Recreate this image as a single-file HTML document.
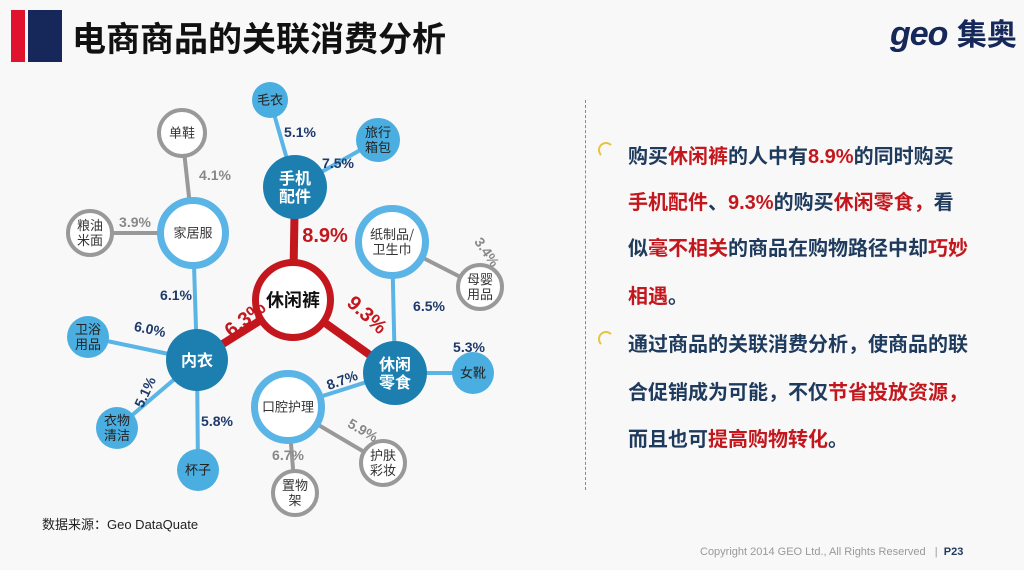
<!DOCTYPE html>
<html><head><meta charset="utf-8">
<style>
body{margin:0;width:1024px;height:570px;overflow:hidden;background:#f8f8f8;font-family:"Liberation Sans","Noto Sans CJK SC",sans-serif;position:relative}
.t{position:absolute;white-space:nowrap}
.line{position:absolute;left:628px;font-size:20px;font-weight:bold;color:#1e3a5c;white-space:nowrap}
.r{color:#c3171d}
.bullet{position:absolute;left:598px;width:12px;height:12px;border-radius:50%;border:2px solid #e8c43a;border-right-color:transparent;border-bottom-color:transparent}
</style></head><body>
<div style="position:absolute;left:11px;top:10px;width:14px;height:52px;background:#e0122d"></div>
<div style="position:absolute;left:28px;top:10px;width:34px;height:52px;background:#16275a"></div>
<div class="t" style="left:72px;top:15px;font-size:34px;font-weight:bold;color:#111;font-family:'Noto Sans CJK SC',sans-serif;line-height:44px">电商商品的关联消费分析</div>
<div class="t" style="left:890px;top:14px;font-size:34px;font-weight:bold;color:#16275a;line-height:40px"><span style="font-style:italic;letter-spacing:-1px">geo</span> <span style="font-size:30px">集奥</span></div>
<div style="position:absolute;left:585px;top:100px;height:390px;border-left:1.5px dashed #888"></div>

<div class="bullet" style="top:142px"></div>
<div class="line" style="top:140px">购买<span class="r">休闲裤</span>的人中有<span class="r">8.9%</span>的同时购买</div>
<div class="line" style="top:186px"><span class="r">手机配件</span>、<span class="r">9.3%</span>的购买<span class="r">休闲零食</span><span class="r">，</span>看</div>
<div class="line" style="top:232px">似<span class="r">毫不相关</span>的商品在购物路径中却<span class="r">巧妙</span></div>
<div class="line" style="top:280px"><span class="r">相遇</span>。</div>
<div class="bullet" style="top:331px"></div>
<div class="line" style="top:328px">通过商品的关联消费分析，使商品的联</div>
<div class="line" style="top:376px">合促销成为可能，不仅<span class="r">节省投放资源</span><span class="r">，</span></div>
<div class="line" style="top:423px">而且也可<span class="r">提高购物转化</span>。</div>

<div class="t" style="left:42px;top:514px;font-size:13px;color:#222">数据来源：Geo DataQuate</div>
<div class="t" style="left:700px;top:546px;font-size:11px;color:#999">Copyright 2014 GEO Ltd., All Rights Reserved &nbsp; | &nbsp;<span style="color:#1e3a5c;font-weight:bold">P23</span></div>

<svg id="net" width="560" height="530" style="position:absolute;left:0;top:0"></svg>
<script>
const nodeLabels=["休闲裤","手机\n配件","毛衣","旅行\n箱包","家居服","单鞋","粮油\n米面","纸制品/\n卫生巾","母婴\n用品","内衣","卫浴\n用品","衣物\n清洁","杯子","休闲\n零食","女靴","口腔护理","护肤\n彩妆","置物\n架"];
const edgeFrom=[0,0,0,1,1,4,4,4,9,9,9,13,13,13,7,15,15];
const edgeTo=[1,9,13,2,3,5,6,9,10,11,12,7,14,15,8,16,17];
const edgeValues=[8.9,6.3,9.3,5.1,7.5,4.1,3.9,6.1,6.0,5.1,5.8,6.5,5.3,8.7,3.4,5.9,6.7];
// layout (not data)
const nodeX=[293,295,270,378,193,182,90,392,480,197,88,117,198,395,473,288,383,295];
const nodeY=[300,187,100,140,233,133,233,242,287,360,337,428,470,373,373,407,463,493];
const nodeR=[41,32,18,22,36,25,24,37,24,31,21,21,21,32,21,37,24,24];
const nodeStyle=["center","dark","light","light","ring","gray","gray","ring","gray","dark","light","light","light","dark","light","ring","gray","gray"];
const labelPos=[[325,237,0],[246,320,-38],[366,316,42],[300,132,0],[338,163,0],[215,175,0],[135,222,0],[176,295,0],[150,329,12],[145,392,-65],[217,421,0],[429,306,0],[469,347,0],[342,380,-20],[487,252,55],[363,430,30],[288,455,0]];
const NS="http://www.w3.org/2000/svg";
const svg=document.getElementById('net');
function mk(t,a){const e=document.createElementNS(NS,t);for(const k in a)e.setAttribute(k,a[k]);return e;}
edgeFrom.forEach((f,i)=>{
  const t=edgeTo[i];
  const col=f===0?"#c3171d":(nodeStyle[t]==="gray"?"#999":"#5ab4e5");
  const w=f===0?8:4;
  const l=mk('line',{x1:nodeX[f],y1:nodeY[f],x2:nodeX[t],y2:nodeY[t],stroke:col,'stroke-width':w});
  
  
  svg.appendChild(l);
});
nodeLabels.forEach((lab,i)=>{
  const s=nodeStyle[i];let fill,stroke,sw,tc,fs=13,fw="normal";
  if(s==="center"){fill="#fff";stroke="#c3171d";sw=7;tc="#111";fs=18;fw="bold";}
  else if(s==="dark"){fill="#1d7fb0";stroke="#1d7fb0";sw=0;tc="#fff";fs=16;fw="bold";}
  else if(s==="light"){fill="#4aaee0";stroke="#4aaee0";sw=0;tc="#222";}
  else if(s==="ring"){fill="#fff";stroke="#5ab4e5";sw=7;tc="#333";}
  else {fill="#fff";stroke="#999";sw=4;tc="#333";}
  const c=mk('circle',{cx:nodeX[i],cy:nodeY[i],r:nodeR[i]-sw/2,fill:fill,stroke:stroke,'stroke-width':sw});
  
  
  svg.appendChild(c);
  const lines=lab.split("\n");
  lines.forEach((ln,j)=>{
    const tx=mk('text',{x:nodeX[i],y:nodeY[i]+(j-(lines.length-1)/2)*(fs+2)+fs*0.36,'text-anchor':'middle','font-size':fs,'font-weight':fw,fill:tc,'font-family':'Noto Sans CJK SC,sans-serif'});
    tx.textContent=ln;
    
    
    svg.appendChild(tx);
  });
});
edgeValues.forEach((v,i)=>{
  const [x,y,rot]=labelPos[i];const main=edgeFrom[i]===0;
  const gray=nodeStyle[edgeTo[i]]==="gray";
  const tx=mk('text',{x:x,y:y+5,'text-anchor':'middle','font-size':main?20:14,'font-weight':'bold',fill:main?"#c3171d":(gray?"#888":"#1e3a6c"),'font-family':'Liberation Sans Narrow,Liberation Sans,sans-serif',transform:`rotate(${rot} ${x} ${y})`});
  tx.textContent=v.toFixed(1)+"%";
  
  
  svg.appendChild(tx);
});
</script>
</body></html>
